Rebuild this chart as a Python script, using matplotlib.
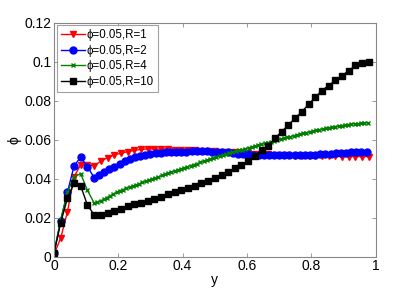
import matplotlib
matplotlib.use("Agg")
import matplotlib.pyplot as plt

plt.rcParams['font.family'] = ['Liberation Sans', 'DejaVu Sans']

# ---- data ----
x_black = [0.0, 0.021, 0.042, 0.0625, 0.083, 0.104, 0.125, 0.146, 0.167, 0.1875,
           0.208, 0.229, 0.25, 0.271, 0.292, 0.3125, 0.333, 0.354, 0.375, 0.396,
           0.417, 0.4375, 0.458, 0.479, 0.5, 0.521, 0.542, 0.5625, 0.583, 0.604,
           0.625, 0.646, 0.667, 0.6875, 0.708, 0.729, 0.75, 0.771, 0.792, 0.8125,
           0.833, 0.854, 0.875, 0.896, 0.917, 0.9375, 0.958, 0.979]
y_black = [0.0017, 0.0174, 0.030, 0.0376, 0.0363, 0.0265, 0.0214, 0.0214, 0.0226, 0.0235,
           0.0245, 0.0262, 0.0270, 0.0277, 0.0286, 0.0296, 0.0308, 0.0320, 0.0333, 0.0342,
           0.0351, 0.0363, 0.0376, 0.0390, 0.0402, 0.0419, 0.0433, 0.0453, 0.0470, 0.0490,
           0.0518, 0.0545, 0.0569, 0.0607, 0.0641, 0.0675, 0.0710, 0.0744, 0.0781, 0.0817,
           0.0851, 0.0877, 0.0903, 0.0928, 0.0954, 0.0980, 0.0992, 0.0997]

x_red = x_black
y_red = [0.001, 0.0095, 0.023, 0.041, 0.047, 0.0472, 0.0465, 0.0490, 0.0508, 0.0521,
         0.0530, 0.0538, 0.0545, 0.0550, 0.0552, 0.0552, 0.0551, 0.0550, 0.0549, 0.0548,
         0.0546, 0.0545, 0.0543, 0.0541, 0.0540, 0.0538, 0.0536, 0.0534, 0.0532, 0.0530,
         0.0528, 0.0526, 0.0524, 0.0522, 0.0520, 0.0519, 0.0518, 0.0517, 0.0516, 0.0515,
         0.0515, 0.0514, 0.0514, 0.0513, 0.0513, 0.0513, 0.0513, 0.0513]

x_blue = [0.0, 0.021, 0.042, 0.0625, 0.083, 0.104, 0.125,
          0.140, 0.156, 0.172, 0.188, 0.204, 0.220, 0.236, 0.252, 0.268, 0.284,
          0.300, 0.316, 0.332, 0.348, 0.364, 0.380, 0.396, 0.412, 0.428, 0.444,
          0.460, 0.476, 0.492, 0.508, 0.524, 0.540, 0.556, 0.572, 0.588, 0.604,
          0.620, 0.636, 0.652, 0.668, 0.684, 0.700, 0.716, 0.732, 0.748, 0.764,
          0.780, 0.796, 0.812, 0.828, 0.844, 0.860, 0.876, 0.892, 0.908, 0.924,
          0.940, 0.956, 0.972]
y_blue = [0.0017, 0.0185, 0.033, 0.0465, 0.051, 0.0462, 0.0405,
          0.0418, 0.0432, 0.0447, 0.0460, 0.0475, 0.0488, 0.0500, 0.0509, 0.0516, 0.0522,
          0.0527, 0.0530, 0.0533, 0.0535, 0.0536, 0.0537, 0.0538, 0.0538, 0.0539, 0.0539,
          0.0539, 0.0539, 0.0538, 0.0537, 0.0536, 0.0534, 0.0531, 0.0528, 0.0526, 0.0524,
          0.0523, 0.0522, 0.0522, 0.0521, 0.0521, 0.0521, 0.0521, 0.0521, 0.0521, 0.0521,
          0.0522, 0.0522, 0.0523, 0.0524, 0.0526, 0.0528, 0.0530, 0.0532, 0.0533, 0.0534,
          0.0535, 0.0535, 0.0536]

x_green = [0.0, 0.021, 0.042, 0.0625, 0.083, 0.104, 0.125,
           0.135, 0.145, 0.155, 0.165, 0.175, 0.185, 0.195, 0.205, 0.215, 0.225,
           0.235, 0.245, 0.255, 0.265, 0.275, 0.285, 0.295, 0.305, 0.315, 0.325,
           0.335, 0.345, 0.355, 0.365, 0.375, 0.385, 0.395, 0.405, 0.415, 0.425,
           0.435, 0.445, 0.455, 0.465, 0.475, 0.485, 0.495, 0.505, 0.515, 0.525,
           0.535, 0.545, 0.555, 0.565, 0.575, 0.585, 0.595, 0.605, 0.615, 0.625,
           0.635, 0.645, 0.655, 0.665, 0.675, 0.685, 0.695, 0.705, 0.715, 0.725,
           0.735, 0.745, 0.755, 0.765, 0.775, 0.785, 0.795, 0.805, 0.815, 0.825,
           0.835, 0.845, 0.855, 0.865, 0.875, 0.885, 0.895, 0.905, 0.915, 0.925,
           0.935, 0.945, 0.955, 0.965, 0.975]
y_green = [0.0017, 0.019, 0.033, 0.041, 0.0425, 0.034, 0.0275,
           0.0279, 0.0286, 0.0294, 0.0303, 0.0312, 0.0321, 0.0330, 0.0338, 0.0344, 0.0350,
           0.0356, 0.0362, 0.0368, 0.0374, 0.0380, 0.0386, 0.0392, 0.0398, 0.0404, 0.0410,
           0.0416, 0.0422, 0.0428, 0.0434, 0.0439, 0.0445, 0.0450, 0.0456, 0.0461, 0.0467,
           0.0472, 0.0477, 0.0483, 0.0489, 0.0494, 0.0500, 0.0505, 0.0511, 0.0516, 0.0521,
           0.0526, 0.0531, 0.0535, 0.0540, 0.0545, 0.0549, 0.0554, 0.0558, 0.0563, 0.0567,
           0.0571, 0.0576, 0.0580, 0.0585, 0.0589, 0.0593, 0.0598, 0.0602, 0.0607, 0.0611,
           0.0615, 0.0620, 0.0624, 0.0628, 0.0632, 0.0636, 0.0640, 0.0644, 0.0647, 0.0651,
           0.0655, 0.0658, 0.0661, 0.0664, 0.0667, 0.0670, 0.0672, 0.0675, 0.0677, 0.0679,
           0.0681, 0.0682, 0.0684, 0.0685, 0.0686]

labels = ['\u03d5=0.05,R=1', '\u03d5=0.05,R=2', '\u03d5=0.05,R=4', '\u03d5=0.05,R=10']
x_ticks = [0, 0.2, 0.4, 0.6, 0.8, 1]
x_ticklabels = ['0', '0.2', '0.4', '0.6', '0.8', '1']
y_ticks = [0, 0.02, 0.04, 0.06, 0.08, 0.1, 0.12]
y_ticklabels = ['0', '0.02', '0.04', '0.06', '0.08', '0.1', '0.12']

# ---- figure ----
fig = plt.figure(figsize=(4.15, 2.97), dpi=100)
ax = fig.add_axes([0.130, 0.136, 0.775, 0.788])

ax.plot(x_red, y_red, color='red', marker='v', markersize=5, lw=1.0, label=labels[0])
ax.plot(x_blue, y_blue, color='blue', marker='o', markersize=5, lw=1.0, label=labels[1])
ax.plot(x_green, y_green, color=(0, 0.5, 0), marker='x', markersize=3.5, mew=1.0, lw=1.0, label=labels[2])
ax.plot(x_black, y_black, color='black', marker='s', markersize=4.5, lw=1.0, label=labels[3])

ax.set_xlim(0, 1)
ax.set_ylim(0, 0.12)
ax.set_xticks(x_ticks)
ax.set_xticklabels(x_ticklabels)
ax.set_yticks(y_ticks)
ax.set_yticklabels(y_ticklabels)
ax.tick_params(direction='in', top=True, right=True, labelsize=10, length=3,
               color='#888888', width=0.6, pad=2)
for s in ax.spines.values():
    s.set_color('#888888')
    s.set_linewidth(0.8)

ax.set_xlabel('y', fontsize=10, labelpad=0)
ax.set_ylabel('\u03d5', fontsize=10, labelpad=2)

leg = ax.legend(loc='upper left', fontsize=8.3, frameon=True, fancybox=False,
                borderaxespad=0.25, handlelength=2.1, handletextpad=0.15,
                labelspacing=0.3, borderpad=0.35)
leg.get_frame().set_edgecolor('#888888')
leg.get_frame().set_linewidth(0.8)

fig.savefig('out.png', dpi=100)
